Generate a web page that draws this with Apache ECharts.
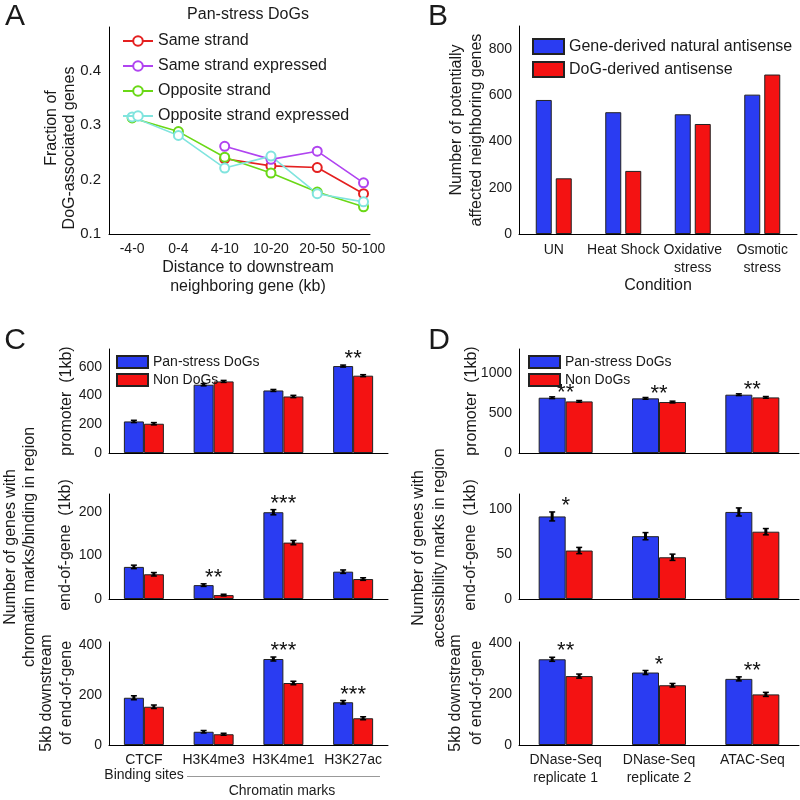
<!DOCTYPE html>
<html><head><meta charset="utf-8">
<script src="https://cdn.jsdelivr.net/npm/echarts@6/dist/echarts.min.js"></script>
<style>html,body{margin:0;padding:0;background:#fff}#c{width:800px;height:800px}</style>
</head><body><div id="c"></div>
<script>
// ---------- Panel A data ----------
const distCats = ['-4-0', '0-4', '4-10', '10-20', '20-50', '50-100'];
const sameStrand = [null, null, 0.238, 0.225, 0.222, 0.174];
const sameStrandExpr = [null, null, 0.261, 0.237, 0.252, 0.194];
const oppStrand = [0.313, 0.288, 0.241, 0.212, 0.177, 0.150];
const oppStrandExpr = [0.315, 0.281, 0.221, 0.243, 0.174, 0.159];
const aTicks = [0.1, 0.2, 0.3, 0.4];

// ---------- Panel B data ----------
const condCats = ['UN', 'Heat Shock', 'Oxidative\nstress', 'Osmotic\nstress'];
const geneAntisense = [580, 527, 518, 603];
const dogAntisense = [241, 273, 476, 690];
const bTicks = [0, 200, 400, 600, 800];

// ---------- Panel C data ----------
const chromCats = ['CTCF', 'H3K4me3', 'H3K4me1', 'H3K27ac'];
const cPromDog = [220, 476, 436, 606];
const cPromDogErr = [8, 8, 7, 7];
const cPromNon = [204, 499, 394, 539];
const cPromNonErr = [8, 7, 8, 7];
const cPromStars = ['', '', '', '**'];
const cPromTicks = [0, 200, 400, 600];

const cEndDog = [74, 32, 200, 63];
const cEndDogErr = [4, 3, 6, 4];
const cEndNon = [57, 9, 130, 46];
const cEndNonErr = [4, 2, 5, 3];
const cEndStars = ['', '**', '***', ''];
const cEndTicks = [0, 100, 200];

const c5kbDog = [189, 53, 344, 171];
const c5kbDogErr = [8, 5, 8, 7];
const c5kbNon = [153, 43, 248, 107];
const c5kbNonErr = [7, 4, 7, 6];
const c5kbStars = ['', '', '***', '***'];
const c5kbTicks = [0, 200, 400];

// ---------- Panel D data ----------
const accCats = ['DNase-Seq\nreplicate 1', 'DNase-Seq\nreplicate 2', 'ATAC-Seq'];
const dPromDog = [691, 683, 729];
const dPromDogErr = [11, 11, 11];
const dPromNon = [645, 637, 695];
const dPromNonErr = [11, 11, 11];
const dPromStars = ['**', '**', '**'];
const dPromTicks = [0, 500, 1000];

const dEndDog = [92, 70, 97];
const dEndDogErr = [5, 4, 4.5];
const dEndNon = [54, 46.5, 75];
const dEndNonErr = [3.5, 3.5, 3.5];
const dEndStars = ['*', '', ''];
const dEndTicks = [0, 50, 100];

const d5kbDog = [337, 285, 260];
const d5kbDogErr = [8, 8, 8];
const d5kbNon = [271, 235, 199];
const d5kbNonErr = [8, 7, 8];
const d5kbStars = ['**', '*', '**'];
const d5kbTicks = [0, 200, 400];

// ---------- styles ----------
const FONT = 'Liberation Sans, Arial, Helvetica, sans-serif';
const TXT = '#1a1a1a';
const BLUE = '#2a3cf2';
const RED = '#f41212';
const EDGE = '#222';

const grids = [
  {left: 109, top: 27, width: 261, height: 207},   // A
  {left: 519, top: 26, width: 278, height: 208},   // B
  {left: 109, top: 349, width: 279, height: 104},  // C promoter
  {left: 109, top: 494, width: 279, height: 105},  // C end
  {left: 109, top: 642, width: 279, height: 103},  // C 5kb
  {left: 519, top: 349, width: 280, height: 104},  // D promoter
  {left: 519, top: 494, width: 280, height: 105},  // D end
  {left: 519, top: 642, width: 280, height: 103}   // D 5kb
].map(g => Object.assign({outerBoundsMode: 'none', containLabel: false}, g));

const axisLineStyle = {show: true, lineStyle: {color: '#000', width: 1}};

function yAxisOf(gi, max, ticks, fs, margin, fmt) {
  return {
    type: 'value', gridIndex: gi, min: ticks[0], max: max,
    axisLine: axisLineStyle, axisTick: {show: false}, splitLine: {show: false},
    axisLabel: {customValues: ticks, fontSize: fs, color: TXT, fontFamily: FONT, margin: margin,
      formatter: fmt || (v => String(v))}
  };
}
function catAxisOf(gi, cats, showLabels, margin, lh) {
  return {
    type: 'category', gridIndex: gi, data: cats, boundaryGap: true,
    axisLine: axisLineStyle, axisTick: {show: false}, splitLine: {show: false},
    axisLabel: {show: showLabels, fontSize: 14, color: TXT, fontFamily: FONT, margin: margin, lineHeight: lh || 18, interval: 0}
  };
}

const xAxes = [];
const yAxes = [];
const series = [];

// Panel A axes
xAxes.push({
  type: 'value', gridIndex: 0, min: 0.5, max: 6.14,
  axisLine: axisLineStyle, axisTick: {show: false}, splitLine: {show: false},
  axisLabel: {customValues: [1, 2, 3, 4, 5, 6], fontSize: 14, color: TXT, fontFamily: FONT, margin: 8,
    formatter: v => distCats[Math.round(v) - 1]}
});
yAxes.push(Object.assign(yAxisOf(0, 0.48, aTicks, 15, 8, v => v.toFixed(1)), {min: 0.1}));

function lineSeries(name, vals, color) {
  return {
    type: 'line', name: name, xAxisIndex: 0, yAxisIndex: 0,
    data: vals.map((v, i) => [i + 1, v]),
    symbol: 'emptyCircle', symbolSize: 9, showSymbol: true,
    lineStyle: {color: color, width: 1.6}, itemStyle: {color: color, borderWidth: 1.6},
    connectNulls: false, animation: false
  };
}
series.push(lineSeries('Same strand', sameStrand, '#e42020'));
series.push(lineSeries('Same strand expressed', sameStrandExpr, '#b044f0'));
series.push(lineSeries('Opposite strand', oppStrand, '#6ad816'));
series.push(lineSeries('Opposite strand expressed', oppStrandExpr, '#80e4de'));

// Panel B
xAxes.push(catAxisOf(1, condCats, true, 7, 18));
yAxes.push(yAxisOf(1, 900, bTicks, 14, 7));
const barStyle = c => ({color: c, borderColor: EDGE, borderWidth: 1});
series.push({type: 'bar', name: 'Gene-derived natural antisense', xAxisIndex: 1, yAxisIndex: 1,
  data: geneAntisense, barWidth: 16, barGap: '25%', itemStyle: barStyle(BLUE), animation: false});
series.push({type: 'bar', name: 'DoG-derived antisense', xAxisIndex: 1, yAxisIndex: 1,
  data: dogAntisense, barWidth: 16, barGap: '25%', itemStyle: barStyle(RED), animation: false});

// grouped bars with error bars and significance stars
function errRender(offset) {
  return function (params, api) {
    const i = api.value(0), v = api.value(1), e = api.value(2);
    const t = api.coord([i, v + e]);
    const b = api.coord([i, v - e]);
    const x = t[0] + offset;
    return {type: 'group', children: [
      {type: 'line', shape: {x1: x, y1: t[1], x2: x, y2: b[1]}, style: {stroke: '#000', lineWidth: 3}},
      {type: 'line', shape: {x1: x - 3, y1: t[1], x2: x + 3, y2: t[1]}, style: {stroke: '#000', lineWidth: 1.5}},
      {type: 'line', shape: {x1: x - 3, y1: b[1], x2: x + 3, y2: b[1]}, style: {stroke: '#000', lineWidth: 1.5}}
    ]};
  };
}
function addGrouped(gi, cats, blue, blueErr, red, redErr, stars, bw, max, ticks, showLabels, starLift) {
  xAxes.push(catAxisOf(gi, cats, showLabels, 6, 18));
  yAxes.push(yAxisOf(gi, max, ticks, 14, 7));
  const ax = xAxes.length - 1, ay = yAxes.length - 1;
  series.push({type: 'bar', name: 'Pan-stress DoGs', xAxisIndex: ax, yAxisIndex: ay, data: blue,
    barWidth: bw, barGap: '0%', itemStyle: barStyle(BLUE), animation: false});
  series.push({type: 'bar', name: 'Non DoGs', xAxisIndex: ax, yAxisIndex: ay, data: red,
    barWidth: bw, barGap: '0%', itemStyle: barStyle(RED), animation: false});
  series.push({type: 'custom', xAxisIndex: ax, yAxisIndex: ay, z: 5, animation: false, silent: true,
    data: blue.map((v, i) => [i, v, blueErr[i]]), renderItem: errRender(-bw / 2)});
  series.push({type: 'custom', xAxisIndex: ax, yAxisIndex: ay, z: 5, animation: false, silent: true,
    data: red.map((v, i) => [i, v, redErr[i]]), renderItem: errRender(bw / 2)});
  const starData = [];
  stars.forEach((s, i) => { if (s) starData.push([i, Math.max(blue[i] + blueErr[i], red[i] + redErr[i]), s]); });
  series.push({type: 'custom', xAxisIndex: ax, yAxisIndex: ay, z: 6, animation: false, silent: true,
    data: starData.map(d => [d[0], d[1]]),
    renderItem: function (params, api) {
      const p = api.coord([api.value(0), api.value(1)]);
      return {type: 'text', x: p[0], y: p[1] - starLift,
        style: {text: starData[params.dataIndex][2], fontSize: 22, fontFamily: FONT, fill: '#111',
          align: 'center', verticalAlign: 'middle'}};
    }});
}
addGrouped(2, chromCats, cPromDog, cPromDogErr, cPromNon, cPromNonErr, cPromStars, 20, 725, cPromTicks, false, 6);
addGrouped(3, chromCats, cEndDog, cEndDogErr, cEndNon, cEndNonErr, cEndStars, 20, 242, cEndTicks, false, 6);
addGrouped(4, chromCats, c5kbDog, c5kbDogErr, c5kbNon, c5kbNonErr, c5kbStars, 20, 412, c5kbTicks, true, 6);
addGrouped(5, accCats, dPromDog, dPromDogErr, dPromNon, dPromNonErr, dPromStars, 27, 1300, dPromTicks, false, 4);
addGrouped(6, accCats, dEndDog, dEndDogErr, dEndNon, dEndNonErr, dEndStars, 27, 117, dEndTicks, false, 6);
addGrouped(7, accCats, d5kbDog, d5kbDogErr, d5kbNon, d5kbNonErr, d5kbStars, 27, 405, d5kbTicks, true, 6);

const legendText = fs => ({fontSize: fs, color: TXT, fontFamily: FONT});
const legends = [
  {orient: 'vertical', left: 117, top: 28, itemWidth: 30, itemHeight: 12, itemGap: 9,
   data: ['Same strand', 'Same strand expressed', 'Opposite strand', 'Opposite strand expressed'],
   textStyle: legendText(16), selectedMode: false},
  {orient: 'vertical', left: 527, top: 33, itemWidth: 31, itemHeight: 15, itemGap: 6,
   data: ['Gene-derived natural antisense', 'DoG-derived antisense'], icon: 'rect',
   textStyle: legendText(16), selectedMode: false},
  {orient: 'vertical', left: 111, top: 350, itemWidth: 31, itemHeight: 12, itemGap: 4,
   data: ['Pan-stress DoGs', 'Non DoGs'], icon: 'rect', textStyle: legendText(14), selectedMode: false},
  {orient: 'vertical', left: 523, top: 350, itemWidth: 31, itemHeight: 12, itemGap: 4,
   data: ['Pan-stress DoGs', 'Non DoGs'], icon: 'rect', textStyle: legendText(14), selectedMode: false}
];

function txt(x, y, s, fs, rot, extra) {
  return Object.assign({type: 'text', x: x, y: y, rotation: rot ? Math.PI / 2 : 0, silent: true,
    style: {text: s, fontSize: fs, fontFamily: FONT, fill: TXT, align: 'center', verticalAlign: 'middle'}}, extra || {});
}
const graphics = [
  txt(15, 17, 'A', 30), txt(438, 17, 'B', 30), txt(15, 341, 'C', 30), txt(439, 341, 'D', 30),
  txt(248, 15, 'Pan-stress DoGs', 16),
  txt(52, 128, 'Fraction of', 16, true), txt(70, 148, 'DoG-associated genes', 16, true),
  txt(248, 268, 'Distance to downstream', 16), txt(248, 287, 'neighboring gene (kb)', 16),
  txt(457, 120, 'Number of potentially', 16, true), txt(477, 130, 'affected neighboring genes', 16, true),
  txt(658, 286, 'Condition', 16),
  txt(67, 401, 'promoter  (1kb)', 16, true),
  txt(66, 545, 'end-of-gene  (1kb)', 16, true),
  txt(47, 693, '5kb downstream', 16, true), txt(67, 693, 'of end-of-gene', 16, true),
  txt(11, 547, 'Number of genes with', 16, true), txt(30, 547, 'chromatin marks/binding in region', 16, true),
  txt(144, 775, 'Binding sites', 14), txt(282, 791, 'Chromatin marks', 14),
  {type: 'line', silent: true, shape: {x1: 187, y1: 776.5, x2: 380, y2: 776.5}, style: {stroke: '#999', lineWidth: 1}},
  txt(472, 401, 'promoter  (1kb)', 16, true),
  txt(471, 545, 'end-of-gene  (1kb)', 16, true),
  txt(456, 693, '5kb downstream', 16, true), txt(477, 693, 'of end-of-gene', 16, true),
  txt(419, 548, 'Number of genes with', 16, true), txt(440, 548, 'accessibility marks in region', 16, true)
];

const chart = echarts.init(document.getElementById('c'), null, {renderer: 'canvas'});
chart.setOption({
  backgroundColor: '#fff',
  animation: false,
  textStyle: {fontFamily: FONT},
  grid: grids, xAxis: xAxes, yAxis: yAxes, series: series, legend: legends, graphic: graphics
});
</script></body></html>
